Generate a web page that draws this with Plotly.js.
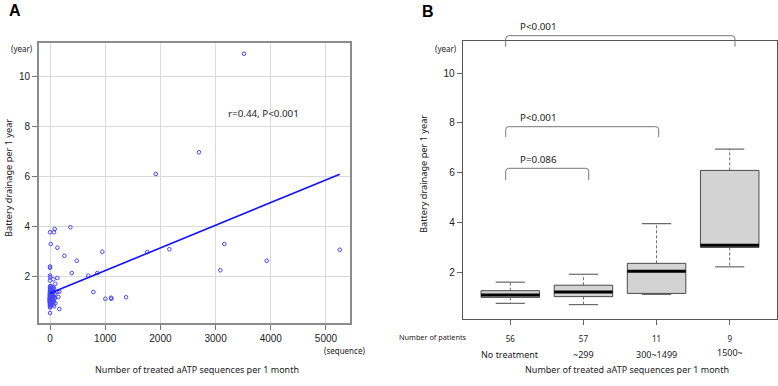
<!DOCTYPE html>
<html>
<head>
<meta charset="utf-8">
<script src="https://cdn.plot.ly/plotly-3.0.1.min.js"></script>
<style>html,body{margin:0;padding:0;background:#fff;}#chart{width:778px;height:386px;}</style>
</head>
<body>
<div id="chart"></div>
<script>
// ---------- Panel A data: scatter ----------
// No treatment (x = 0)
const noTreatX = new Array(56).fill(0);
const noTreatY = [0.52,0.74,0.78,0.82,0.86,0.88,0.90,0.92,0.94,0.95,0.96,0.97,0.98,0.98,0.99,1.00,1.01,1.02,1.03,1.04,1.05,1.06,1.07,1.07,1.08,1.08,1.09,1.10,1.11,1.12,1.13,1.14,1.15,1.17,1.18,1.20,1.21,1.23,1.25,1.25,1.27,1.29,1.31,1.34,1.37,1.40,1.44,1.48,1.53,1.59,1.82,1.95,2.02,2.33,2.38,3.75];
// ~299
const lowX = [12,84,72,133,260,133,60,96,72,168,133,151,96,72,168,
  3,5,6,8,10,12,14,15,18,20,22,24,25,28,30,32,35,38,40,42,45,48,50,52,55,
  4,7,9,11,16,19,26,33,36,44,58,62,65,70,78,85,90];
const lowY = [3.28,3.88,3.75,3.13,2.81,1.92,1.87,1.69,1.52,1.37,1.37,1.16,0.91,0.79,0.68,
  1.02,1.15,0.95,1.30,1.08,1.22,0.88,1.45,1.12,1.00,1.35,0.97,1.18,1.26,1.05,1.40,0.92,1.10,1.55,1.20,1.03,1.28,0.85,1.14,1.48,
  1.25,0.99,1.33,1.07,1.60,1.17,0.94,1.42,1.11,1.23,1.02,1.36,1.19,0.96,1.09,1.27,1.13];
// 300~1499
const midX = [368,483,393,694,857,785,948,1002,1105,1111,1377];
const midY = [3.95,2.61,2.12,2.01,2.12,1.36,2.97,1.09,1.13,1.09,1.15];
// 1500~
const highX = [1763,1915,2162,2699,3086,3158,3514,3925,5250];
const highY = [2.96,6.08,3.07,6.95,2.23,3.28,10.89,2.61,3.05];
// regression line
const fitX = [0, 5250];
const fitY = [1.31, 6.07];
const xTicksA = [0,1000,2000,3000,4000,5000];
const yTicks = [2,4,6,8,10];

// ---------- Panel B data: box summaries ----------
const groupLabels = ['No treatment','~299','300~1499','1500~'];
const countLabels = ['56','57','11','9'];
const boxLower  = [0.74, 0.69, 1.10, 2.21];
const boxQ1     = [0.98, 1.01, 1.14, 2.99];
const boxMedian = [1.08, 1.20, 2.03, 3.08];
const boxQ3     = [1.25, 1.47, 2.35, 6.09];
const boxUpper  = [1.59, 1.91, 3.95, 6.95];
const pTexts = ['P<0.001','P<0.001','P=0.086'];

// ---------- build ----------
const px = v => v/778;
const py = v => 1 - v/386;
const allX = [].concat(noTreatX, lowX, midX, highX);
const allY = [].concat(noTreatY, lowY, midY, highY);

const traces = [];
traces.push({type:'scatter', mode:'markers', x:allX, y:allY, xaxis:'x', yaxis:'y',
  marker:{symbol:'circle-open', size:3.6, color:'#4646ff', line:{width:1, color:'#4646ff'}},
  hoverinfo:'skip', showlegend:false, cliponaxis:true});
traces.push({type:'scatter', mode:'lines', x:fitX, y:fitY, xaxis:'x', yaxis:'y',
  line:{color:'#1010ff', width:1.6}, hoverinfo:'skip', showlegend:false});

// boxes
const w = 0.4;
const pos = groupLabels.map((_, i) => i + 1);
const bx = [], by = [], mx = [], my = [], wx = [], wy = [], sx = [], sy = [];
pos.forEach((c, i) => {
  bx.push(c-w, c+w, c+w, c-w, c-w, null);
  by.push(boxQ1[i], boxQ1[i], boxQ3[i], boxQ3[i], boxQ1[i], null);
  mx.push(c-w, c+w, null); my.push(boxMedian[i], boxMedian[i], null);
  wx.push(c, c, null, c, c, null);
  wy.push(boxQ3[i], boxUpper[i], null, boxQ1[i], boxLower[i], null);
  sx.push(c-w/2, c+w/2, null, c-w/2, c+w/2, null);
  sy.push(boxUpper[i], boxUpper[i], null, boxLower[i], boxLower[i], null);
});
traces.push({type:'scatter', mode:'lines', x:wx, y:wy, xaxis:'x2', yaxis:'y2',
  line:{color:'#6a6a6a', width:1, dash:'3px,2px'}, hoverinfo:'skip', showlegend:false});
traces.push({type:'scatter', mode:'lines', x:sx, y:sy, xaxis:'x2', yaxis:'y2',
  line:{color:'#6a6a6a', width:1.2}, hoverinfo:'skip', showlegend:false});
traces.push({type:'scatter', mode:'lines', x:bx, y:by, xaxis:'x2', yaxis:'y2', fill:'toself',
  fillcolor:'#d3d3d3', line:{color:'#4a4a4a', width:1}, hoverinfo:'skip', showlegend:false});
traces.push({type:'scatter', mode:'lines', x:mx, y:my, xaxis:'x2', yaxis:'y2',
  line:{color:'#000', width:3}, hoverinfo:'skip', showlegend:false});

const tickFont = {family:'Liberation Sans, Arial, sans-serif', size:10, color:'#222'};
const txtFont = (s) => ({family:'Noto Sans, sans-serif', size:s, color:'#222'});

const annotations = [
  {text:'<b>A</b>', x:px(14.5), y:py(10.5), font:{family:'Liberation Sans, Arial', size:16, color:'#000'}},
  {text:'<b>B</b>', x:px(427.5), y:py(11.5), font:{family:'Liberation Sans, Arial', size:16, color:'#000'}},
  {text:'(year)', x:px(22), y:py(48), font:txtFont(8)},
  {text:'(year)', x:px(446), y:py(48), font:txtFont(8)},
  {text:'(sequence)', x:px(322), y:py(350), xanchor:'left', font:txtFont(8)},
  {text:'Battery drainage per 1 year', x:px(8), y:py(178), textangle:-90, font:txtFont(9.2)},
  {text:'Battery drainage per 1 year', x:px(423), y:py(174), textangle:-90, font:txtFont(9.2)},
  {text:'Number of treated aATP sequences per 1 month', x:px(197), y:py(369), font:txtFont(9)},
  {text:'Number of treated aATP sequences per 1 month', x:px(627), y:py(369.3), font:txtFont(9)},
  {text:'r=0.44, P<0.001', x:px(226), y:py(114), xanchor:'left', font:txtFont(9.8)},
  {text:'Number of patients', x:px(397), y:py(337), xanchor:'left', font:txtFont(7.3)},
  {text:pTexts[0], x:px(518), y:py(26), xanchor:'left', font:txtFont(9.8)},
  {text:pTexts[1], x:px(518), y:py(117.3), xanchor:'left', font:txtFont(9.8)},
  {text:pTexts[2], x:px(518), y:py(160), xanchor:'left', font:txtFont(9.8)}
].map(a => Object.assign({xref:'paper', yref:'paper', showarrow:false, xanchor:'center', yanchor:'middle'}, a));
groupLabels.forEach((g, i) => {
  annotations.push({text:g, xref:'x2', x:pos[i], yref:'paper', y:py(i===3?352.7:354), showarrow:false,
    xanchor:'center', yanchor:'middle', font:txtFont(9)});
});

function bracket(x0, x1, yTop, yBot) {
  const r = 3;
  return {type:'path', xref:'paper', yref:'paper',
    path:`M ${px(x0)},${py(yBot)} L ${px(x0)},${py(yTop+r)} Q ${px(x0)},${py(yTop)} ${px(x0+r)},${py(yTop)} L ${px(x1-r)},${py(yTop)} Q ${px(x1)},${py(yTop)} ${px(x1)},${py(yTop+r)} L ${px(x1)},${py(yBot)}`,
    line:{color:'#777', width:1}};
}
const shapes = [
  bracket(505.7, 735, 35.7, 46.7),
  bracket(505.7, 658.7, 126.7, 137),
  bracket(505.7, 588.7, 168.3, 180)
];

const layout = {
  width:778, height:386, margin:{l:0, r:0, t:0, b:0},
  paper_bgcolor:'#fff', plot_bgcolor:'#fff', showlegend:false,
  xaxis:{domain:[px(39), px(350)], range:[-200, 5435], anchor:'y', tickvals:xTicksA,
    showgrid:true, gridcolor:'#dadada', gridwidth:1, zeroline:false,
    showline:true, mirror:true, linecolor:'#8c8c8c', linewidth:2,
    ticks:'outside', ticklen:5, tickcolor:'#777', tickfont:tickFont},
  yaxis:{domain:[py(323), py(43)], range:[0.12, 11.32], anchor:'x', tickvals:yTicks,
    showgrid:true, gridcolor:'#dadada', gridwidth:1, zeroline:false,
    showline:true, mirror:true, linecolor:'#8c8c8c', linewidth:2,
    ticks:'outside', ticklen:5, tickcolor:'#777', tickfont:tickFont},
  xaxis2:{domain:[px(462.7), px(777)], range:[0.349, 4.647], anchor:'y2',
    tickvals:pos, ticktext:countLabels, showgrid:false, zeroline:false,
    showline:true, mirror:true, linecolor:'#555', linewidth:1,
    ticks:'outside', ticklen:5, tickcolor:'#666', ticklabelstandoff:7,
    tickfont:{family:'Noto Sans, sans-serif', size:8, color:'#222'}},
  yaxis2:{domain:[py(319), py(40.7)], range:[0.11, 11.31], anchor:'x2', tickvals:yTicks,
    showgrid:false, zeroline:false,
    showline:true, mirror:true, linecolor:'#555', linewidth:1,
    ticks:'outside', ticklen:5, tickcolor:'#666', tickfont:tickFont},
  annotations:annotations, shapes:shapes
};

Plotly.newPlot('chart', traces, layout, {staticPlot:true, displayModeBar:false});
</script>
</body>
</html>
